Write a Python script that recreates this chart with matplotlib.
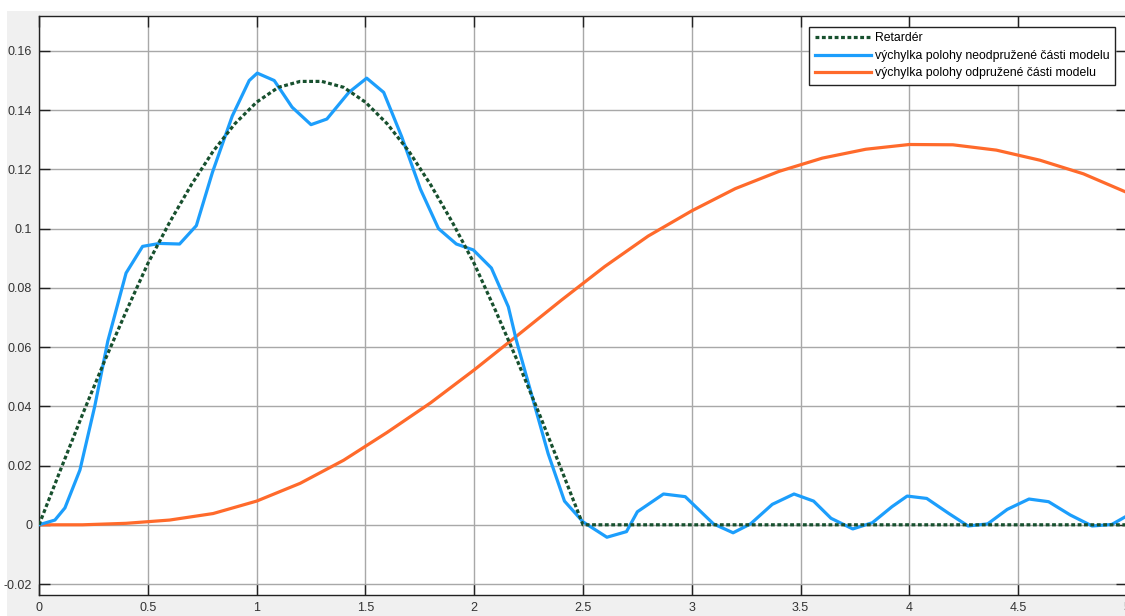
import numpy as np
import matplotlib
matplotlib.use("Agg")
import matplotlib.pyplot as plt
from matplotlib.patches import Rectangle

# Retarder profile
ret_x = [0.0, 0.1, 0.2, 0.3, 0.4, 0.5, 0.6, 0.7, 0.8, 0.9, 1.0, 1.1, 1.2, 1.3,
         1.4, 1.5, 1.6, 1.7, 1.8, 1.9, 2.0, 2.1, 2.2, 2.3, 2.4, 2.5, 5.0]
ret_y = [0.0, 0.0188, 0.0373, 0.0551, 0.0720, 0.0882, 0.1021, 0.1148, 0.1261,
         0.1354, 0.1427, 0.1477, 0.1497, 0.1497, 0.1477, 0.1427, 0.1354, 0.1261,
         0.1148, 0.1021, 0.0882, 0.0720, 0.0551, 0.0373, 0.0188, 0.0, 0.0]

# unsprung part displacement
neo_x = [0.0, 0.073, 0.119, 0.188, 0.256, 0.316, 0.40, 0.476, 0.554, 0.646,
         0.723, 0.797, 0.888, 0.966, 1.003, 1.081, 1.163, 1.25, 1.323, 1.424,
         1.506, 1.584, 1.667, 1.753, 1.836, 1.918, 1.996, 2.079, 2.157, 2.193,
         2.34, 2.415, 2.5, 2.61, 2.70, 2.75, 2.87, 2.97, 3.10, 3.19, 3.27,
         3.37, 3.47, 3.56, 3.64, 3.74, 3.83, 3.92, 3.99, 4.08, 4.18, 4.27,
         4.36, 4.45, 4.55, 4.64, 4.74, 4.84, 4.93, 5.0]
neo_y = [0.0, 0.0016, 0.0057, 0.0185, 0.040, 0.062, 0.085, 0.094, 0.095, 0.0948,
         0.101, 0.119, 0.138, 0.150, 0.1525, 0.150, 0.141, 0.1351, 0.137, 0.146,
         0.1508, 0.146, 0.131, 0.1133, 0.100, 0.0948, 0.0928, 0.0867, 0.0736,
         0.0625, 0.024, 0.008, 0.001, -0.0042, -0.0023, 0.0044, 0.0104, 0.0095,
         0.0003, -0.0027, 0.0003, 0.0069, 0.0104, 0.008, 0.0022, -0.0014, 0.0007,
         0.0061, 0.0097, 0.0089, 0.0039, -0.0004, 0.0003, 0.0052, 0.0087, 0.0078,
         0.0033, -0.0004, 0.0001, 0.0030]

# sprung part displacement
odp_x = [0.0, 0.2, 0.4, 0.6, 0.8, 1.0, 1.2, 1.4, 1.6, 1.8, 2.0, 2.2, 2.4, 2.6,
         2.8, 3.0, 3.2, 3.4, 3.6, 3.8, 4.0, 4.2, 4.4, 4.6, 4.8, 5.0]
odp_y = [0.0, 0.0, 0.0005, 0.0016, 0.0038, 0.0080, 0.0140, 0.0218, 0.0312,
         0.0412, 0.0523, 0.0640, 0.0758, 0.0872, 0.0975, 0.1060, 0.1135, 0.1193,
         0.1238, 0.1268, 0.1284, 0.1283, 0.1265, 0.1231, 0.1185, 0.1122]

labels = ["Retardér",
          "výchylka polohy neodpružené části modelu",
          "výchylka polohy odpružené části modelu"]

plt.rcParams["font.family"] = ["Liberation Sans", "DejaVu Sans"]
plt.rcParams["axes.unicode_minus"] = False

fig = plt.figure(figsize=(11.25, 6.16), dpi=100, facecolor="#f0f0f0")
# white strips of the screenshot border
fig.patches.append(Rectangle((0, 0.982), 1, 0.02, transform=fig.transFigure,
                             facecolor="white", edgecolor="none", zorder=-1))
fig.patches.append(Rectangle((0, 0), 0.006, 1, transform=fig.transFigure,
                             facecolor="white", edgecolor="none", zorder=-1))

ax = fig.add_axes([0.0347, 0.0341, 0.967, 0.940])
ax.set_facecolor("white")

ax.plot(odp_x, odp_y, color="#ff6a2b", lw=2.3, label=labels[2], zorder=2)
ax.plot(neo_x, neo_y, color="#1c9efc", lw=2.3, label=labels[1], zorder=3)
ax.plot(ret_x, ret_y, color="#17502e", lw=2.3, dashes=(1.2, 0.8),
        label=labels[0], zorder=4)

ax.set_xlim(0, 5)
ax.set_ylim(-0.0237, 0.1718)
ax.set_xticks(np.arange(0, 5.01, 0.5))
ax.set_yticks(np.arange(-0.02, 0.161, 0.02))
ax.xaxis.set_major_formatter(matplotlib.ticker.FormatStrFormatter("%g"))
ax.yaxis.set_major_formatter(matplotlib.ticker.FuncFormatter(
    lambda v, p: "%g" % round(v, 3)))
ax.tick_params(direction="in", length=8, width=1, top=True, right=True,
               labelsize=9, labelcolor="#333333", colors="#222222", pad=5)
ax.grid(True, color="#a8a8a8", lw=1)
for s in ax.spines.values():
    s.set_color("#222222")
    s.set_linewidth(1)

h, l = ax.get_legend_handles_labels()
order = [2, 1, 0]
leg = ax.legend([h[i] for i in order], [l[i] for i in order],
                loc="upper right", bbox_to_anchor=(0.989, 0.981),
                borderaxespad=0, fontsize=8.8, fancybox=False, framealpha=1,
                edgecolor="#222222", handlelength=4.6, handletextpad=0.3,
                labelspacing=0.45, borderpad=0.45)
leg.get_frame().set_linewidth(1)

fig.savefig("out.png", dpi=100, facecolor=fig.get_facecolor())
